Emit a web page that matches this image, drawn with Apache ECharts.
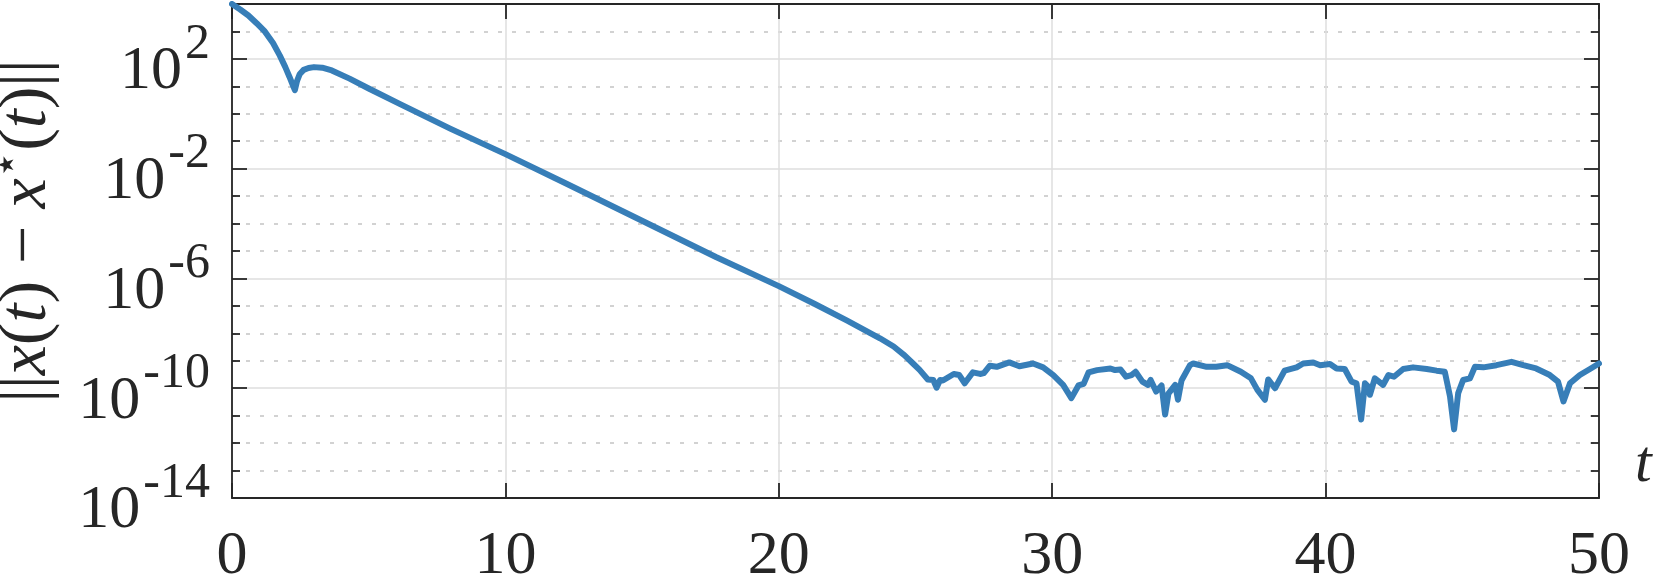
<!DOCTYPE html>
<html>
<head>
<meta charset="utf-8">
<script src="https://cdn.jsdelivr.net/npm/echarts@6/dist/echarts.min.js"></script>
<style>
  html, body { margin: 0; padding: 0; background: #fff; }
  #errChart { width: 1661px; height: 581px; }
</style>
</head>
<body>
<div id="errChart"></div>
<script>
// time samples (x axis)
const tValues = [
  0, 0.3, 0.6, 0.9, 1.2, 1.5, 1.75, 1.95, 2.1, 2.22, 2.3, 2.38, 2.48, 2.62, 2.8, 3.0, 3.3, 3.65,
  4.3, 5.0, 6.15, 8.0, 10.0, 12.2, 14.7, 17.7, 20.0, 21.3, 22.5, 23.7, 24.2, 24.6, 24.9, 25.15,
  25.45, 25.65, 25.77, 25.9, 26.0, 26.4, 26.6, 26.8, 27.1, 27.36, 27.5, 27.72, 27.97, 28.2, 28.43,
  28.8, 29.3, 29.67, 30.04, 30.4, 30.7, 30.96, 31.15, 31.33, 31.64, 32.13, 32.3, 32.5, 32.7, 32.9,
  33.05, 33.3, 33.5, 33.6, 33.8, 34.0, 34.13, 34.25, 34.5, 34.6, 34.73, 35.04, 35.16, 35.65, 36.0,
  36.4, 36.9, 37.27, 37.5, 37.78, 37.9, 38.15, 38.5, 38.94, 39.18, 39.55, 39.8, 40.16, 40.4, 40.7,
  40.95, 41.13, 41.3, 41.44, 41.56, 41.62, 41.8, 42.1, 42.3, 42.5, 42.84, 43.2, 43.7, 44.06, 44.36,
  44.55, 44.7, 44.85, 45.03, 45.28, 45.46, 45.77, 46.25, 46.8, 47.23, 47.7, 48.2, 48.5, 48.7, 48.94,
  49.3, 49.67, 50.0
];
// log10 of ||x(t) - x*(t)||
const logErr = [
  4.0, 3.8, 3.58, 3.3, 3.0, 2.58, 2.12, 1.7, 1.35, 1.05, 0.86, 1.2, 1.45, 1.6, 1.67, 1.7, 1.68, 1.58,
  1.28, 0.92, 0.35, -0.55, -1.47, -2.53, -3.75, -5.22, -6.28, -6.92, -7.54, -8.18, -8.48, -8.8, -9.09, -9.33,
  -9.68, -9.7, -9.98, -9.7, -9.72, -9.48, -9.52, -9.82, -9.42, -9.48, -9.45, -9.18, -9.22, -9.14, -9.06,
  -9.2, -9.1, -9.24, -9.52, -9.88, -10.36, -9.9, -9.84, -9.42, -9.34, -9.28, -9.34, -9.32, -9.58, -9.52,
  -9.4, -9.76, -9.88, -9.7, -10.12, -9.9, -10.96, -10.2, -9.88, -10.42, -9.72, -9.16, -9.1, -9.22, -9.22,
  -9.16, -9.4, -9.64, -10.05, -10.42, -9.68, -10.0, -9.36, -9.24, -9.1, -9.06, -9.16, -9.12, -9.28, -9.3,
  -9.76, -9.82, -11.14, -9.82, -9.94, -10.24, -9.64, -9.88, -9.52, -9.58, -9.3, -9.24, -9.3, -9.36, -9.4,
  -10.3, -11.5, -10.18, -9.7, -9.64, -9.22, -9.24, -9.16, -9.04, -9.16, -9.28, -9.52, -9.76, -10.48, -9.82,
  -9.52, -9.3, -9.1
];
// axis ranges (decades for y)
const xTicks = [0, 50, 10];      // min, max, step
const yDecades = [-14, 4, 4];    // min, max, labelled step

const axisColor = '#262626';
const serif = 'Liberation Serif';

const chart = echarts.init(document.getElementById('errChart'));

const lineData = tValues.map((t, i) => [t, logErr[i]]);

const frameX = {
  type: 'value', min: xTicks[0], max: xTicks[1], interval: xTicks[2]
};
const frameY = {
  type: 'value', min: yDecades[0], max: yDecades[1], interval: yDecades[2]
};
const frameLine = { show: true, onZero: false, lineStyle: { color: axisColor, width: 1.8 } };
const majorTick = { show: true, inside: true, length: 15, lineStyle: { color: axisColor, width: 1.8 } };
const minorTick = { show: true, splitNumber: 4, length: 8, lineStyle: { color: axisColor, width: 1.8 } };

// "10^n" label: base and exponent are drawn by two stacked axes so that
// the exponent can be raised; the other part is kept as invisible spacing
const powRich = (baseColor, expColor) => ({
  b: { fontFamily: serif, fontSize: 62, color: baseColor },
  s: { fontFamily: serif, fontSize: 50, color: expColor, padding: [0, 0, 0, 3] }
});
const powText = v => (v === yDecades[1] ? '' : '{b|10}{s|' + v + '}');

const option = {
  animation: false,
  grid: { left: 232, right: 62, top: 4, bottom: 83, containLabel: false, outerBoundsMode: 'none' },
  xAxis: [
    Object.assign({}, frameX, {
      position: 'bottom',
      name: 't',
      nameLocation: 'end',
      nameGap: 36,
      nameTextStyle: {
        fontFamily: serif, fontStyle: 'italic', fontSize: 60, color: axisColor,
        verticalAlign: 'bottom', lineHeight: 60, padding: [0, 0, 3, 0]
      },
      axisLine: frameLine,
      axisTick: majorTick,
      axisLabel: { show: true, margin: 28, fontFamily: serif, fontSize: 62, lineHeight: 62, color: axisColor },
      splitLine: { show: true, lineStyle: { color: '#dedede', width: 1.5 } }
    }),
    Object.assign({}, frameX, {
      position: 'top',
      axisLine: frameLine,
      axisTick: majorTick,
      axisLabel: { show: false },
      splitLine: { show: false }
    })
  ],
  yAxis: [
    Object.assign({}, frameY, {
      position: 'left',
      name: '{n|||}{i|x}{n|(}{i|t}{n|) − }{i|x}{s|⋆}{n|(}{i|t}{n|)||}',
      nameLocation: 'middle',
      nameRotate: 90,
      nameGap: 165,
      nameMoveOverlap: false,
      nameTextStyle: {
        color: axisColor,
        padding: [0, 0, 0, 40],
        rich: {
          n: { fontFamily: serif, fontSize: 68, lineHeight: 80, color: axisColor },
          i: { fontFamily: serif, fontStyle: 'italic', fontSize: 68, lineHeight: 80, color: axisColor },
          s: { fontFamily: 'DejaVu Sans', fontSize: 44, lineHeight: 44, verticalAlign: 'top', color: axisColor }
        }
      },
      axisLine: frameLine,
      axisTick: majorTick,
      minorTick: minorTick,
      axisLabel: {
        show: true,
        margin: 22,
        padding: [26, 0, 0, 0],
        formatter: powText,
        rich: powRich(axisColor, 'rgba(0,0,0,0)')
      },
      splitLine: { show: true, lineStyle: { color: '#dedede', width: 1.5 } },
      minorSplitLine: { show: true, lineStyle: { color: '#c4c4c4', width: 1.5, type: [4, 10] } }
    }),
    Object.assign({}, frameY, {
      position: 'right',
      axisLine: frameLine,
      axisTick: majorTick,
      minorTick: minorTick,
      axisLabel: { show: false },
      splitLine: { show: false }
    }),
    Object.assign({}, frameY, {
      position: 'left',
      axisLine: { show: false },
      axisTick: { show: false },
      axisLabel: {
        show: true,
        margin: 22,
        padding: [0, 0, 29, 0],
        formatter: powText,
        rich: powRich('rgba(0,0,0,0)', axisColor)
      },
      splitLine: { show: false }
    })
  ],
  series: [
    {
      type: 'line',
      xAxisIndex: 0,
      yAxisIndex: 0,
      data: lineData,
      showSymbol: false,
      symbol: 'none',
      clip: true,
      lineStyle: { color: '#377eb8', width: 6, cap: 'round', join: 'round' },
      z: 3
    }
  ]
};

chart.setOption(option);
</script>
</body>
</html>
